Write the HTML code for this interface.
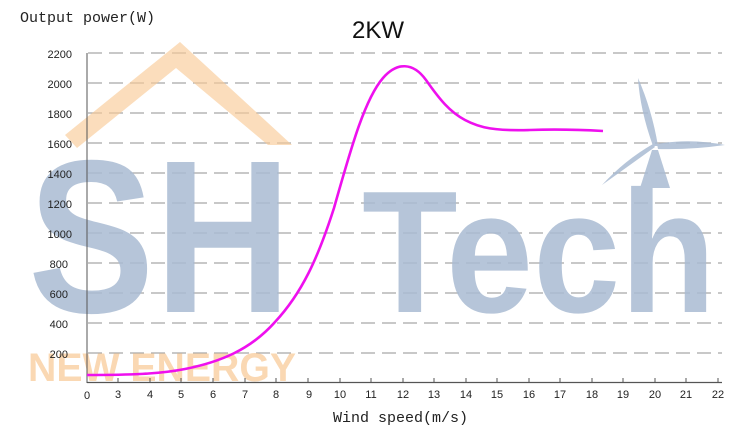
<!DOCTYPE html>
<html><head><meta charset="utf-8"><style>
html,body{margin:0;padding:0;background:#fff;}
svg{display:block;}
</style></head><body>
<svg width="750" height="432" viewBox="0 0 750 432" xmlns="http://www.w3.org/2000/svg">
<rect width="750" height="432" fill="#fff"/>
<g stroke="#a8a8a8" stroke-width="1.3" stroke-dasharray="14,7">
<line x1="88" y1="53" x2="722" y2="53"/>
<line x1="88" y1="83" x2="722" y2="83"/>
<line x1="88" y1="113" x2="722" y2="113"/>
<line x1="88" y1="143" x2="722" y2="143"/>
<line x1="88" y1="173" x2="722" y2="173"/>
<line x1="88" y1="203" x2="722" y2="203"/>
<line x1="88" y1="233" x2="722" y2="233"/>
<line x1="88" y1="263" x2="722" y2="263"/>
<line x1="88" y1="293" x2="722" y2="293"/>
<line x1="88" y1="323" x2="722" y2="323"/>
<line x1="88" y1="353" x2="722" y2="353"/>
</g>
<g opacity="0.85">
<polygon points="65,135 180,42 292,145 268,145 176,68 77,148" fill="#f8c996" opacity="0.75"/>
<text x="28" y="312" font-family="Liberation Sans, sans-serif" font-weight="bold" font-size="218" fill="#a9bbd2" transform="translate(28,0) scale(0.87,1) translate(-28,0)">SH</text>
<text x="362" y="312" font-family="Liberation Sans, sans-serif" font-weight="bold" font-size="174" fill="#a9bbd2" transform="translate(362,0) scale(0.9,1) translate(-362,0)">Tech</text>
<g fill="#a9bbd2">
<path d="M653,146 Q640,110 638,78 Q652,110 658,146 Z"/>
<path d="M657,144 Q690,138 725,145 Q690,150 658,149 Z"/>
<path d="M655,147 Q630,165 602,185 Q625,160 653,144 Z"/>
<path d="M652,150 L658,150 L670,188 L640,188 Z"/>
</g>
<text x="28" y="381" font-family="Liberation Sans, sans-serif" font-weight="bold" font-size="40" fill="#f8c996" opacity="0.85" textLength="268" lengthAdjust="spacingAndGlyphs">NEW ENERGY</text>
</g>
<line x1="87" y1="53" x2="87" y2="383" stroke="#555" stroke-width="1"/>
<line x1="87" y1="382.5" x2="722" y2="382.5" stroke="#555" stroke-width="1.2"/>
<g stroke="#555" stroke-width="1">
<line x1="118" y1="378" x2="118" y2="383"/><line x1="150" y1="378" x2="150" y2="383"/>
<line x1="181" y1="378" x2="181" y2="383"/><line x1="213" y1="378" x2="213" y2="383"/>
<line x1="245" y1="378" x2="245" y2="383"/><line x1="276" y1="378" x2="276" y2="383"/>
<line x1="308" y1="378" x2="308" y2="383"/><line x1="340" y1="378" x2="340" y2="383"/>
<line x1="371" y1="378" x2="371" y2="383"/><line x1="403" y1="378" x2="403" y2="383"/>
<line x1="434" y1="378" x2="434" y2="383"/><line x1="466" y1="378" x2="466" y2="383"/>
<line x1="497" y1="378" x2="497" y2="383"/><line x1="529" y1="378" x2="529" y2="383"/>
<line x1="560" y1="378" x2="560" y2="383"/><line x1="592" y1="378" x2="592" y2="383"/>
<line x1="623" y1="378" x2="623" y2="383"/><line x1="655" y1="378" x2="655" y2="383"/>
<line x1="686" y1="378" x2="686" y2="383"/><line x1="718" y1="378" x2="718" y2="383"/>
</g>
<g font-family="Liberation Sans, sans-serif" font-size="11" fill="#222" text-anchor="end">
<text x="72" y="58">2200</text><text x="72" y="88">2000</text><text x="72" y="118">1800</text>
<text x="72" y="148">1600</text><text x="72" y="178">1400</text><text x="72" y="208">1200</text>
<text x="72" y="238">1000</text><text x="68" y="268">800</text><text x="68" y="298">600</text>
<text x="68" y="328">400</text><text x="68" y="358">200</text>
</g>
<g font-family="Liberation Sans, sans-serif" font-size="11" fill="#222" text-anchor="middle">
<text x="87" y="399">0</text><text x="118" y="398">3</text><text x="150" y="398">4</text>
<text x="181" y="398">5</text><text x="213" y="398">6</text><text x="245" y="398">7</text>
<text x="276" y="398">8</text><text x="309" y="398">9</text><text x="340" y="398">10</text>
<text x="371" y="398">11</text><text x="403" y="398">12</text><text x="434" y="398">13</text>
<text x="466" y="398">14</text><text x="497" y="398">15</text><text x="529" y="398">16</text>
<text x="560" y="398">17</text><text x="592" y="398">18</text><text x="623" y="398">19</text>
<text x="655" y="398">20</text><text x="686" y="398">21</text><text x="718" y="398">22</text>
</g>
<text x="20" y="22" font-family="Liberation Mono, monospace" font-size="15" fill="#222">Output power(W)</text>
<text x="378" y="38" font-family="Liberation Sans, sans-serif" font-size="24" fill="#111" text-anchor="middle">2KW</text>
<text x="333" y="422" font-family="Liberation Mono, monospace" font-size="15" fill="#222">Wind speed(m/s)</text>
<path d="M87,375 C130,375 160,374 185,369 C220,362 250,350 275,322 C302,293 318,258 334,208 C350,152 364,100 383,78 C397,62 413,62 426,80 C440,100 450,112 465,120 C480,128 495,131 530,130 C560,129 585,130 603,131" fill="none" stroke="#ee10ee" stroke-width="2.6"/>
</svg>
</body></html>
